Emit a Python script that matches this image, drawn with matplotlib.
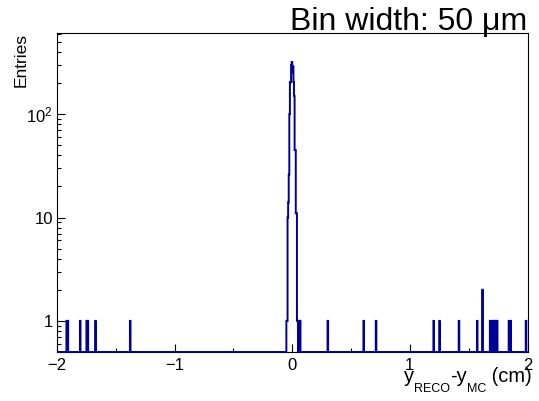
import matplotlib
matplotlib.use('Agg')
import matplotlib.pyplot as plt
from matplotlib.ticker import FixedLocator, LogLocator, MultipleLocator, NullFormatter
import numpy as np

# binning of the residual histogram (cm), 50 um bins
X_MIN, X_MAX, BIN_W = -2.0, 2.0, 0.005
Y_MIN, Y_MAX = 0.5, 610

# non-empty bins around the peak: bin centres (cm) and entries
peak_y = [-0.0475, -0.0425, -0.0375, -0.0325, -0.0275, -0.0225, -0.0175,
          -0.0125, -0.0075, -0.0025, 0.0025, 0.0075, 0.0125, 0.0175,
          0.0225, 0.0275, 0.0325, 0.0375, 0.0425, 0.0475, 0.0575, 0.0675]
peak_n = [1, 1, 10, 14, 26, 100, 205,
          204, 300, 320, 250, 290, 205, 150,
          45, 45, 11, 11, 1, 1, 1, 1]

# isolated outliers in the tails
tail_y = [-1.9175, -1.9075, -1.8025, -1.7475, -1.7375, -1.6725, -1.3775,
          0.3025, 0.6075, 0.7125, 1.2025, 1.2525, 1.4175, 1.5725, 1.6175,
          1.6825, 1.6925, 1.7125, 1.7225, 1.7325, 1.7425,
          1.8425, 1.8575, 1.9875]
tail_n = [1, 1, 1, 1, 1, 1, 1,
          1, 1, 1, 1, 1, 1, 1, 2,
          1, 1, 1, 1, 1, 1,
          1, 1, 1]

plt.rcParams['font.family'] = ['Liberation Sans', 'DejaVu Sans']
plt.rcParams['mathtext.fontset'] = 'custom'
plt.rcParams['mathtext.rm'] = 'Liberation Sans'
plt.rcParams['mathtext.default'] = 'regular'

n_bins = int(round((X_MAX - X_MIN) / BIN_W))
edges = np.linspace(X_MIN, X_MAX, n_bins + 1)
counts, _ = np.histogram(peak_y + tail_y, bins=edges, weights=peak_n + tail_n)

W, H = 539, 401
fig = plt.figure(figsize=(W / 100, H / 100), dpi=100)
ax = fig.add_axes([57 / W, 1 - 352 / H, (527.5 - 57) / W, (352 - 33) / H])
ax.set_yscale('log')

# empty bins sit on the frame bottom, like ROOT does on a log axis
ax.stairs(np.maximum(counts, Y_MIN), edges, color='#000099', lw=1.4,
          baseline=None, clip_on=False, zorder=3)

ax.set_xlim(X_MIN, X_MAX)
ax.set_ylim(Y_MIN, Y_MAX)

ax.xaxis.set_major_locator(MultipleLocator(1))
ax.xaxis.set_minor_locator(MultipleLocator(0.5))
ax.yaxis.set_major_locator(FixedLocator([1, 10, 100]))
ax.set_yticklabels(['1', '10', '$10^{2}$'])
ax.yaxis.set_minor_locator(LogLocator(subs=np.arange(2, 10)))
ax.yaxis.set_minor_formatter(NullFormatter())

ax.tick_params(which='both', direction='in', top=False, right=False,
               width=0.8, labelsize=12)
ax.tick_params(which='major', length=6)
ax.tick_params(which='minor', length=3)
ax.tick_params(axis='x', pad=4)
ax.tick_params(axis='y', pad=3)
for s in ax.spines.values():
    s.set_linewidth(0.8)

fig.text(527 / W, 1 - 30 / H, 'Bin width: 50 \u03bcm', ha='right',
         va='baseline', fontsize=23)
fig.text(21 / W, 1 - 33 / H, 'Entries', rotation=90, ha='center',
         va='top', fontsize=12.5)

# x title built piece by piece so the subscripts drop like ROOT's
xlabel_parts = [('y', 14.5, 0), ('RECO', 9, 10), ('-y', 14.5, 0),
                ('MC', 9, 10), (' (cm)', 14.5, 0)]
renderer = fig.canvas.get_renderer()
widths = []
for txt, size, drop in xlabel_parts:
    t = fig.text(0, 0, txt, fontsize=size)
    widths.append(t.get_window_extent(renderer).width)
    t.remove()
x_px = 532 - sum(widths)
for (txt, size, drop), w in zip(xlabel_parts, widths):
    fig.text(x_px / W, 1 - (382 + drop) / H, txt, fontsize=size,
             ha='left', va='baseline')
    x_px += w

fig.savefig('out.png', dpi=100)
